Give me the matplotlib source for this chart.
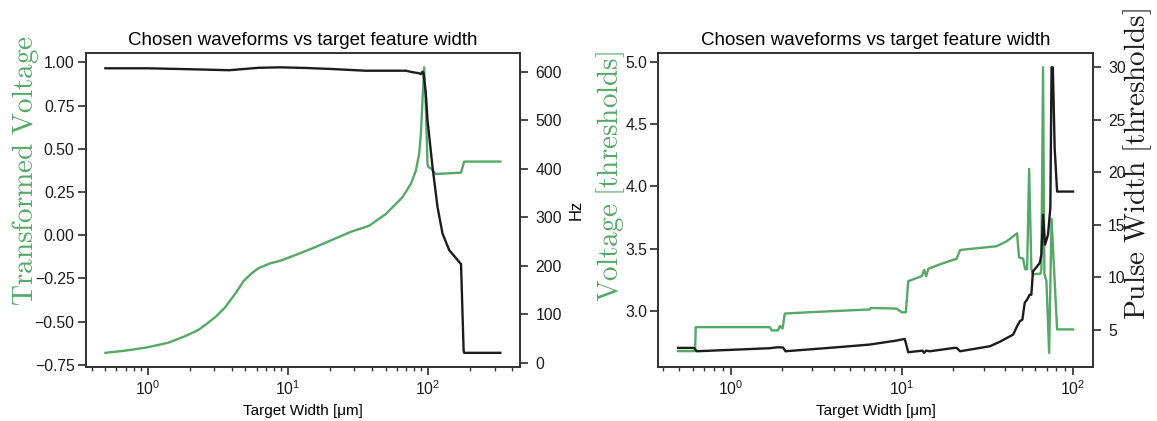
import matplotlib
matplotlib.use("Agg")
import matplotlib.pyplot as plt

plt.rcParams.update({
    "font.family": ["Liberation Sans", "DejaVu Sans"],
    "mathtext.fontset": "cm",
    "axes.edgecolor": "#333333",
    "axes.linewidth": 1.25,
    "xtick.color": "#333333",
    "ytick.color": "#333333",
    "xtick.labelcolor": "#1a1a1a",
    "ytick.labelcolor": "#1a1a1a",
    "xtick.labelsize": 11.3,
    "ytick.labelsize": 11.3,
    "xtick.major.width": 1.25,
    "ytick.major.width": 1.25,
    "xtick.minor.width": 1.0,
    "xtick.major.size": 5.5,
    "ytick.major.size": 5.5,
    "xtick.minor.size": 3.0,
})

GREEN = "#55a868"
BLACK = "#1c1c1c"
TITLE = "Chosen waveforms vs target feature width"
XLABEL = "Target Width [μm]"

# --- Left panel: transformed voltage and frequency ---
tv_width = [0.5, 0.7, 1.0, 1.4, 1.84, 2.3, 2.64, 3.1, 3.58, 4.3, 4.85, 5.5, 6.2,
            7.5, 8.9, 12.0, 15.4, 21.0, 28.3, 38.2, 50.3, 66.1, 75.8, 82.3, 86.9,
            89.4, 91.8, 94.4, 97.0, 99.7, 101.3, 105.4, 114.0, 173.0, 182.0, 330.0]
tv_value = [-0.68, -0.667, -0.648, -0.622, -0.585, -0.548, -0.513, -0.468, -0.417,
            -0.33, -0.265, -0.222, -0.19, -0.163, -0.147, -0.107, -0.072, -0.025,
            0.02, 0.055, 0.123, 0.22, 0.297, 0.373, 0.47, 0.586, 0.778, 0.971,
            0.74, 0.412, 0.393, 0.387, 0.354, 0.362, 0.426, 0.426]

hz_width = [0.5, 1.0, 2.07, 3.81, 4.85, 6.2, 8.9, 13.6, 20.8, 36.0, 53.1, 69.9,
            77.9, 86.0, 89.4, 91.8, 93.2, 97.0, 99.7, 108.2, 117.5, 127.6, 142.4,
            173.0, 180.5, 182.0, 330.0]
hz_value = [607, 607, 605, 603, 605.5, 608, 609, 607.6, 605.5, 602, 602, 602,
            599, 597, 595, 600, 598, 555, 500, 404, 321, 266, 232, 203, 25, 20, 20]

# --- Right panel: voltage and pulse width in thresholds ---
v_width = [0.493, 0.62, 0.625, 1.69, 1.74, 1.89, 1.94, 2.01, 2.07, 3.0, 4.5, 6.5,
           6.6, 9.3, 10.0, 10.55, 10.9, 13.07, 13.5, 13.85, 14.3, 16.7, 20.9, 21.9,
           35.8, 41.0, 47.1, 48.4, 51.1, 52.5, 53.9, 55.4, 57.1, 58.3, 64.5, 65.3,
           66.8, 68.0, 69.9, 72.5, 74.9, 80.7, 100.0]
v_value = [2.679, 2.679, 2.871, 2.871, 2.845, 2.845, 2.88, 2.86, 2.98, 2.992, 3.003,
           3.013, 3.025, 3.02, 2.99, 2.99, 3.24, 3.28, 3.33, 3.28, 3.34, 3.375, 3.42,
           3.49, 3.52, 3.56, 3.624, 3.43, 3.42, 3.335, 3.335, 4.14, 3.335, 3.295,
           3.30, 3.335, 4.955, 3.30, 3.24, 2.665, 3.74, 2.853, 2.853]

pw_width = [0.493, 0.61, 0.634, 1.69, 1.88, 2.02, 2.09, 4.17, 6.5, 9.3, 10.4, 10.9,
            13.2, 13.5, 13.85, 14.6, 20.2, 20.9, 21.9, 32.7, 37.4, 44.7, 47.1, 48.9,
            50.6, 52.2, 53.9, 55.8, 57.1, 58.3, 63.9, 65.3, 66.8, 68.6, 71.4, 73.7,
            74.9, 76.2, 78.1, 80.7, 100.0]
pw_value = [3.26, 3.26, 2.94, 3.23, 3.32, 3.3, 2.94, 3.32, 3.58, 3.96, 4.12, 2.85,
            3.0, 2.79, 3.0, 2.94, 3.26, 3.26, 2.94, 3.42, 3.85, 4.53, 5.32, 5.8,
            5.96, 7.55, 7.86, 8.33, 8.33, 10.55, 11.35, 12.14, 15.95, 13.1, 14.04,
            16.6, 30.0, 30.0, 22.3, 18.16, 18.16]

fig = plt.figure(figsize=(11.57, 4.21), dpi=100)
ax1 = fig.add_axes([0.0740, 0.128, 0.3755, 0.746])
ax2 = fig.add_axes([0.5690, 0.128, 0.3755, 0.746])

LW = 1.7

# Left panel
ax1.plot(tv_width, tv_value, color=GREEN, lw=LW)
ax1.set_xscale("log")
ax1.set_xlabel(XLABEL, fontsize=11)
ax1.set_ylabel(r"$\mathrm{Transformed\ Voltage}$", color=GREEN, fontsize=21)
ax1.yaxis.set_label_coords(-0.102, 0.627)
ax1.set_title(TITLE, fontsize=13.5)
ax1.set_yticks([-0.75, -0.5, -0.25, 0.0, 0.25, 0.5, 0.75, 1.0])
ax1.tick_params(axis="y", pad=2.5)
ax1b = ax1.twinx()
ax1b.plot(hz_width, hz_value, color=BLACK, lw=LW)
ax1b.set_ylabel("Hz", fontsize=12, labelpad=5)
ax1b.set_yticks([0, 100, 200, 300, 400, 500, 600])
ax1b.tick_params(axis="y", pad=5.5)

# Right panel
ax2.plot(v_width, v_value, color=GREEN, lw=LW)
ax2.set_xscale("log")
ax2.set_xlabel(XLABEL, fontsize=11)
ax2.set_ylabel(r"$\mathrm{Voltage\ [thresholds]}$", color=GREEN, fontsize=21)
ax2.yaxis.set_label_coords(-0.0716, 0.607)
ax2.set_title(TITLE, fontsize=13.5)
ax2.set_yticks([3.0, 3.5, 4.0, 4.5, 5.0])
ax2.tick_params(axis="y", pad=2.5)
ax2b = ax2.twinx()
ax2b.plot(pw_width, pw_value, color=BLACK, lw=LW)
ax2b.set_ylabel(r"$\mathrm{Pulse\ Width\ [thresholds]}$", color=BLACK,
                fontsize=21)
ax2b.yaxis.set_label_coords(1.066, 0.648)
ax2b.set_yticks([5, 10, 15, 20, 25, 30])
ax2b.tick_params(axis="y", pad=5.5)

fig.savefig("out.png", dpi=100)
